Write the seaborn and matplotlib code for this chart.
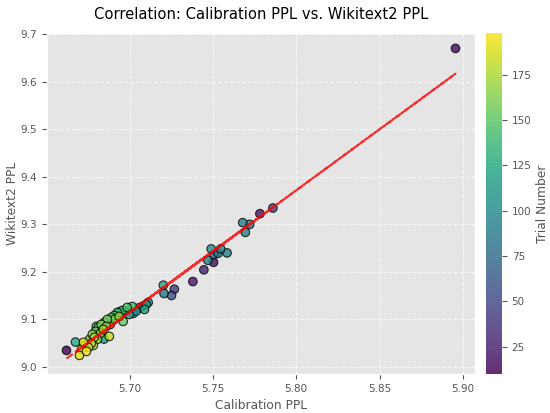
import numpy as np
import pandas as pd
import matplotlib
matplotlib.use("Agg")
import matplotlib.pyplot as plt
import seaborn as sns

# trial number, calibration ppl, wikitext2 ppl
trial = [10, 15, 18, 20, 22, 28, 42, 48, 55, 65,
         80, 85, 88, 90, 92, 93, 95, 95, 98, 100,
         102, 103, 105, 108, 112, 115, 118, 120, 122, 125,
         128, 130, 138, 140, 142, 144, 145, 146, 148, 149,
         150, 152, 153, 155, 157, 158, 160, 162, 163, 165,
         167, 168, 170, 171, 172, 175, 178, 180, 181, 183,
         186, 189, 192, 198]
calib_ppl = [5.6622, 5.8955, 5.7504, 5.7782, 5.7380, 5.7446, 5.7269, 5.7860, 5.7252, 5.7507,
             5.7531, 5.7207, 5.7721, 5.7679, 5.7585, 5.7695, 5.7470, 5.7022, 5.7547, 5.7058,
             5.7490, 5.7112, 5.7040, 5.7080, 5.7100, 5.6847, 5.6998, 5.7203, 5.7090, 5.6676,
             5.6937, 5.6968, 5.6956, 5.7016, 5.6927, 5.6801, 5.6849, 5.6986, 5.6909, 5.6885,
             5.6813, 5.6891, 5.6962, 5.6795, 5.6909, 5.6867, 5.6760, 5.6831, 5.6825, 5.6777,
             5.6861, 5.6938, 5.6807, 5.6789, 5.6843, 5.6783, 5.6771, 5.6730, 5.6879, 5.6754,
             5.6712, 5.6724, 5.6700, 5.6742]
wiki_ppl = [9.0342, 9.6702, 9.2197, 9.3221, 9.1792, 9.2038, 9.1630, 9.3340, 9.1498, 9.2359,
            9.2387, 9.1540, 9.2996, 9.3032, 9.2395, 9.2828, 9.2239, 9.1120, 9.2479, 9.1240,
            9.2479, 9.1351, 9.1168, 9.1273, 9.1309, 9.0580, 9.1099, 9.1714, 9.1204, 9.0517,
            9.1147, 9.1168, 9.1183, 9.1267, 9.1141, 9.0847, 9.0931, 9.1246, 9.1078, 9.0889,
            9.0826, 9.1036, 9.0952, 9.0742, 9.0994, 9.0994, 9.0574, 9.0889, 9.0700, 9.0679,
            9.0847, 9.1057, 9.0574, 9.0616, 9.0784, 9.0447, 9.0489, 9.0447, 9.0637, 9.0405,
            9.0363, 9.0511, 9.0237, 9.0321]

df = pd.DataFrame({"trial": trial, "calib": calib_ppl, "wiki": wiki_ppl})

plt.style.use("ggplot")
fig = plt.figure(figsize=(5.5, 4.13), dpi=100)
ax = fig.add_axes([0.0855, 0.0944, 0.778, 0.826])
cax = fig.add_axes([0.8836, 0.0944, 0.029, 0.826])

norm = plt.Normalize(min(trial), max(trial))
sns.scatterplot(data=df, x="calib", y="wiki", hue="trial", palette="viridis",
                hue_norm=norm, s=38, alpha=0.8, edgecolor="black", linewidth=0.8,
                legend=False, ax=ax)

# linear fit, drawn in trial order like the original
z = np.polyfit(df["calib"], df["wiki"], 1)
p = np.poly1d(z)
ax.plot(df["calib"], p(df["calib"]), "r--", alpha=0.8, linewidth=1.5)

ax.set_title("Correlation: Calibration PPL vs. Wikitext2 PPL", fontsize=10.6,
             color="black", pad=10)
ax.set_xlabel("Calibration PPL", fontsize=8.8, color="#555555")
ax.set_ylabel("Wikitext2 PPL", fontsize=8.8, color="#555555", labelpad=1)
ax.tick_params(labelsize=7.5)
ax.grid(True, linestyle="--", alpha=0.7)

sm = plt.cm.ScalarMappable(cmap="viridis", norm=norm)
sm.set_array([])
cb = fig.colorbar(sm, cax=cax, alpha=0.8)
cb.set_label("Trial Number", fontsize=8.8, color="#555555", labelpad=3)
cb.outline.set_visible(False)
cb.ax.tick_params(labelsize=7.5)

fig.savefig("out.png", dpi=100)
